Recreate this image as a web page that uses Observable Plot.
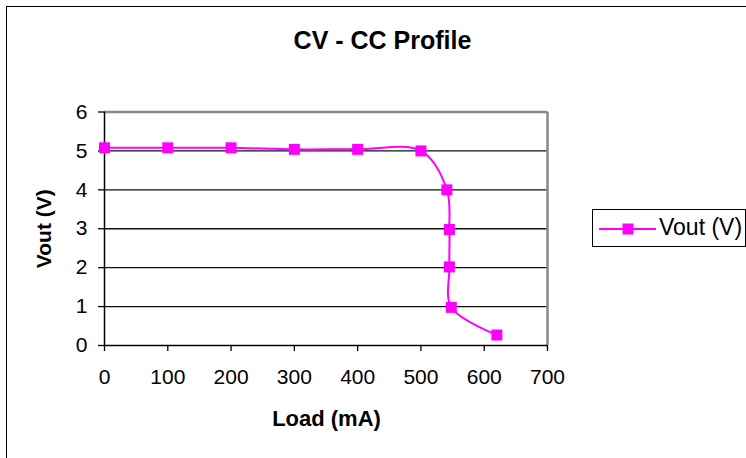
<!DOCTYPE html>
<html>
<head>
<meta charset="utf-8">
<script src="https://cdn.jsdelivr.net/npm/d3@7"></script>
<script src="https://cdn.jsdelivr.net/npm/@observablehq/plot@0.6"></script>
<style>
  html, body { margin: 0; padding: 0; background: #fff; }
  #wrap { position: relative; width: 746px; height: 458px; overflow: hidden; font-family: "Liberation Sans", Arial, sans-serif; }
  #outer { position: absolute; left: 6px; top: 6px; width: 800px; height: 500px; border-left: 1.5px solid #000; border-top: 1.5px solid #000; }
  #chart { position: absolute; left: 0; top: 0; }
  #legend { position: absolute; left: 592px; top: 209px; width: 154px; height: 38px; border: 1.5px solid #000; background: #fff; box-sizing: border-box; }
  #legend svg { position: absolute; left: 6px; top: 8px; }
  #legend span { position: absolute; left: 66px; top: 4px; font-size: 23px; color: #000; white-space: nowrap; }
</style>
</head>
<body>
<div id="wrap">
  <div id="outer"></div>
  <div id="chart"></div>
  <div id="legend">
    <svg width="58" height="22"><line x1="0" y1="11" x2="57" y2="11" stroke="#FF00FF" stroke-width="2"/><rect x="23.5" y="5.5" width="11" height="11" fill="#FF00FF"/></svg>
    <span id="legendText"></span>
  </div>
</div>
<script>
const loads = [0, 100, 200, 300, 400, 500, 541, 545, 545, 548, 620];
const vout = [5.08, 5.08, 5.08, 5.04, 5.04, 5.0, 4.0, 2.98, 2.02, 0.98, 0.27];
const xTicks = [0, 100, 200, 300, 400, 500, 600, 700];
const yTicks = [0, 1, 2, 3, 4, 5, 6];
const gridValues = [1, 2, 3, 4, 5];
const seriesName = "Vout (V)";
const titleText = "CV - CC Profile";
const xTitle = "Load (mA)";
const yTitle = "Vout (V)";

const data = loads.map((x, i) => ({load: x, v: vout[i]}));
document.getElementById("legendText").textContent = seriesName;

const magenta = "#FF00FF";

const chart = Plot.plot({
  width: 746,
  height: 458,
  marginLeft: 104,
  marginRight: 199,
  marginTop: 111.5,
  marginBottom: 113,
  style: {fontFamily: "Liberation Sans, Arial, sans-serif", fontSize: "21px", color: "#000", background: "transparent", overflow: "visible"},
  x: {domain: [0, 700], ticks: xTicks},
  y: {domain: [0, 6], ticks: yTicks},
  marks: [
    Plot.ruleY(gridValues, {stroke: "#111", strokeWidth: 1.3}),
    Plot.ruleY([6], {stroke: "#888", strokeWidth: 2.5}),
    Plot.ruleX([700], {stroke: "#888", strokeWidth: 2.5}),
    Plot.axisX({ticks: xTicks, tickFormat: d3.format("d"), tickSize: 6, tickPadding: 18, label: null, fontSize: 21, stroke: "#000", strokeWidth: 1.3}),
    Plot.axisY({ticks: yTicks, tickFormat: d3.format("d"), tickSize: 6, tickPadding: 11, label: null, fontSize: 21, stroke: "#000", strokeWidth: 1.3}),
    Plot.ruleX([0], {stroke: "#000", strokeWidth: 1.5}),
    Plot.ruleY([0], {stroke: "#000", strokeWidth: 1.5}),
    Plot.line(data, {x: "load", y: "v", curve: "catmull-rom", stroke: magenta, strokeWidth: 2}),
    Plot.dot(data, {x: "load", y: "v", symbol: "square", r: 6.2, fill: magenta, stroke: "none"}),
    Plot.text([titleText], {frameAnchor: "top-left", dx: 278, dy: -63, textAnchor: "middle", lineAnchor: "bottom", fontSize: 25, fontWeight: "bold", fill: "#000"}),
    Plot.text([xTitle], {frameAnchor: "bottom-left", dx: 222, dy: 80, textAnchor: "middle", lineAnchor: "bottom", fontSize: 22, fontWeight: "bold", fill: "#000"}),
    Plot.text([yTitle], {frameAnchor: "left", dx: -54, dy: 0, rotate: -90, textAnchor: "middle", lineAnchor: "bottom", fontSize: 21, fontWeight: "bold", fill: "#000"})
  ]
});
document.getElementById("chart").appendChild(chart);
</script>
</body>
</html>
